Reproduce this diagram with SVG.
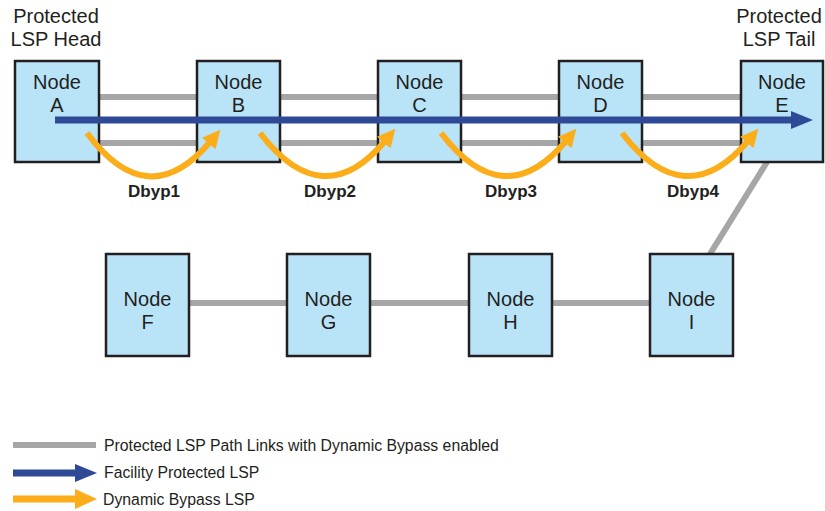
<svg xmlns="http://www.w3.org/2000/svg" width="825" height="511" viewBox="0 0 825 511">
<style>
.node rect{fill:#b9e4f8;stroke:#231f20;stroke-width:2.5}
.node text{font-family:"Liberation Sans",Arial,sans-serif;font-size:20px;fill:#231f20;text-anchor:middle}
.hdr{font-family:"Liberation Sans",Arial,sans-serif;font-size:20px;fill:#231f20;text-anchor:middle}
.lbl{font-family:"Liberation Sans",Arial,sans-serif;font-size:17px;font-weight:bold;fill:#231f20;text-anchor:middle}
.leg{font-family:"Liberation Sans",Arial,sans-serif;font-size:15.8px;fill:#231f20}
.gray{stroke:#a6a6a6;stroke-width:6;fill:none}
.blue{stroke:#2e4a96;stroke-width:7;fill:none}
.orange{stroke:#fbad1a;stroke-width:6;fill:none;marker-end:url(#oh)}
</style>
<defs>
<marker id="oh" markerUnits="userSpaceOnUse" markerWidth="20" markerHeight="20" viewBox="0 0 20 20" refX="2" refY="10" orient="auto">
<path d="M0,1 L18,10 L0,19 z" fill="#fbad1a"/>
</marker>
</defs>
<g id="connectors">
<line class="gray" x1="99" y1="97" x2="197" y2="97"/>
<line class="gray" x1="99" y1="143" x2="197" y2="143"/>
<line class="gray" x1="280" y1="97" x2="378" y2="97"/>
<line class="gray" x1="280" y1="143" x2="378" y2="143"/>
<line class="gray" x1="461" y1="97" x2="559" y2="97"/>
<line class="gray" x1="461" y1="143" x2="559" y2="143"/>
<line class="gray" x1="642" y1="97" x2="741" y2="97"/>
<line class="gray" x1="642" y1="143" x2="741" y2="143"/>
<line class="gray" x1="189" y1="303" x2="287" y2="303"/>
<line class="gray" x1="370" y1="303" x2="469" y2="303"/>
<line class="gray" x1="552" y1="303" x2="650" y2="303"/>
<line class="gray" x1="767" y1="162" x2="710" y2="254"/>
</g>
<g id="nodeA" class="node"><rect x="15" y="61" width="84" height="101"/><text x="57" y="89">Node</text><text x="57" y="112">A</text></g>
<g id="nodeB" class="node"><rect x="197" y="61" width="83" height="101"/><text x="238.5" y="89">Node</text><text x="238.5" y="112">B</text></g>
<g id="nodeC" class="node"><rect x="378" y="61" width="83" height="101"/><text x="419.5" y="89">Node</text><text x="419.5" y="112">C</text></g>
<g id="nodeD" class="node"><rect x="559" y="61" width="83" height="101"/><text x="600.5" y="89">Node</text><text x="600.5" y="112">D</text></g>
<g id="nodeE" class="node"><rect x="741" y="61" width="82" height="101"/><text x="782" y="89">Node</text><text x="782" y="112">E</text></g>
<g id="nodeF" class="node"><rect x="106" y="254" width="83" height="102"/><text x="147.5" y="306">Node</text><text x="147.5" y="329">F</text></g>
<g id="nodeG" class="node"><rect x="287" y="254" width="83" height="102"/><text x="328.5" y="306">Node</text><text x="328.5" y="329">G</text></g>
<g id="nodeH" class="node"><rect x="469" y="254" width="83" height="102"/><text x="510.5" y="306">Node</text><text x="510.5" y="329">H</text></g>
<g id="nodeI" class="node"><rect x="650" y="254" width="83" height="102"/><text x="691.5" y="306">Node</text><text x="691.5" y="329">I</text></g>
<g id="lsp">
<line class="blue" x1="55" y1="120" x2="793" y2="120"/>
<polygon points="791,111 813,120 791,129" fill="#2e4a96"/>
<path class="orange" d="M87,133 Q148,215 210,142"/>
<path class="orange" d="M260,133 Q323,215 385,141"/>
<path class="orange" d="M441,133 Q504,215 566,141"/>
<path class="orange" d="M622,133 Q685,215 748,141"/>
</g>
<g id="labels">
<text class="hdr" x="56" y="23">Protected</text>
<text class="hdr" x="56" y="46">LSP Head</text>
<text class="hdr" x="779" y="23">Protected</text>
<text class="hdr" x="779" y="46">LSP Tail</text>
<text class="lbl" x="154" y="197">Dbyp1</text>
<text class="lbl" x="330" y="197">Dbyp2</text>
<text class="lbl" x="511" y="197">Dbyp3</text>
<text class="lbl" x="693" y="197">Dbyp4</text>
</g>
<g id="legend">
<line class="gray" x1="13" y1="445" x2="96" y2="445"/>
<line x1="13" y1="473" x2="77" y2="473" stroke="#2e4a96" stroke-width="7"/>
<polygon points="75,464 97,473 75,482" fill="#2e4a96"/>
<line x1="13" y1="499" x2="77" y2="499" stroke="#fbad1a" stroke-width="7"/>
<polygon points="75,489 97,499 75,509" fill="#fbad1a"/>
<text class="leg" x="104" y="451">Protected LSP Path Links with Dynamic Bypass enabled</text>
<text class="leg" x="104" y="478">Facility Protected LSP</text>
<text class="leg" x="103" y="505">Dynamic Bypass LSP</text>
</g>
</svg>
